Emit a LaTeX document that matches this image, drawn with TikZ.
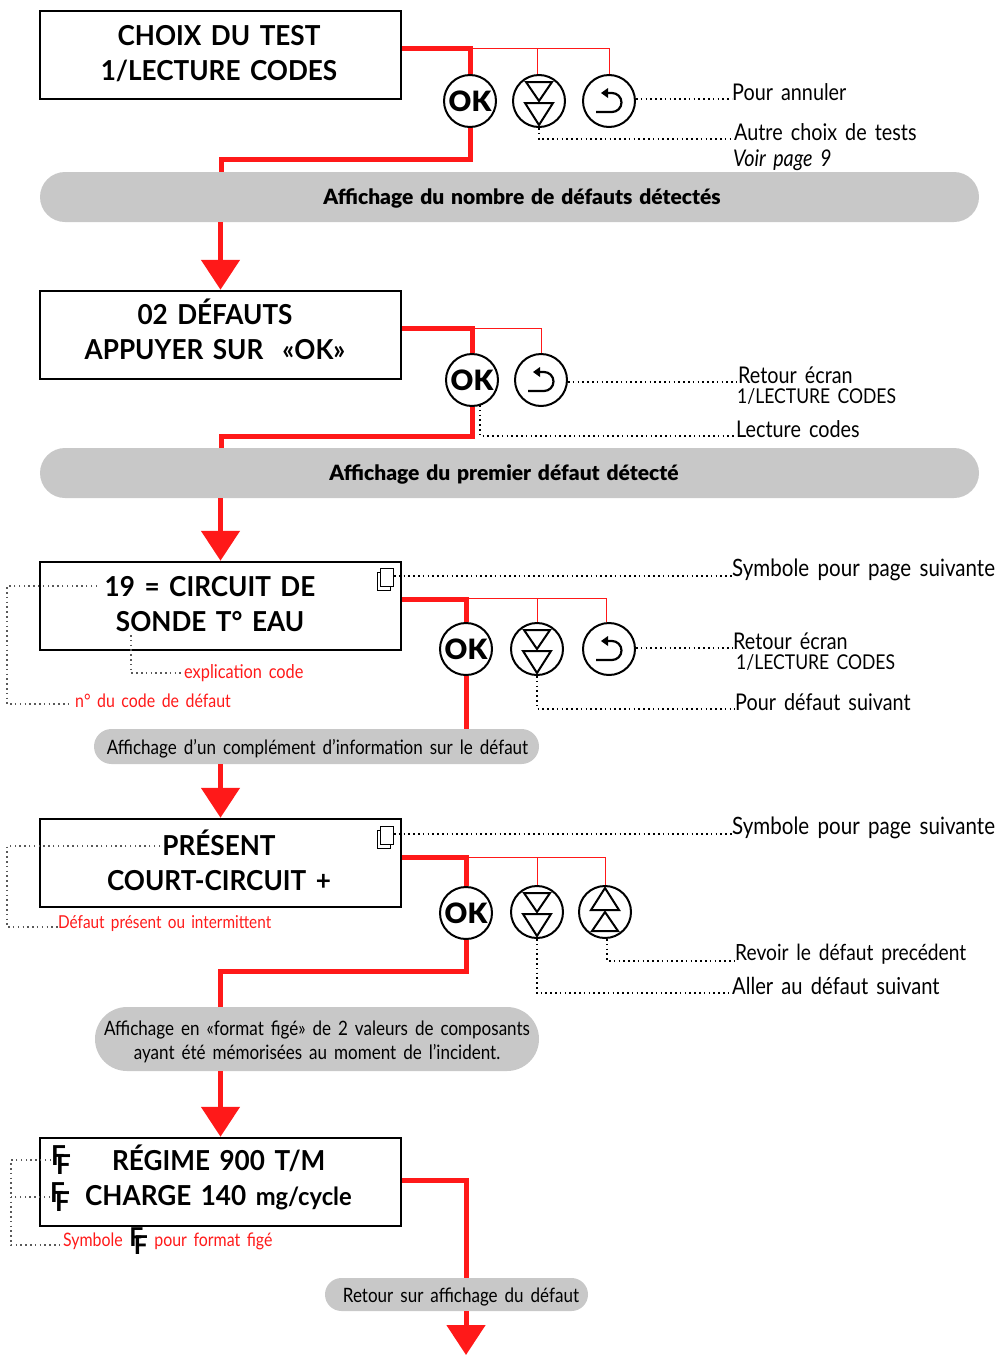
\documentclass[tikz,border=0pt]{standalone}
\usepackage{fontspec}
\setmainfont[WordSpace=1.6,FakeStretch=0.86]{Lato}
\newfontfamily\lcdfont[WordSpace=1.5,FakeStretch=0.95]{Lato Bold}
\newfontfamily\grasfont[WordSpace=1.4]{Lato Black}
\usetikzlibrary{arrows.meta,shapes.misc}
\definecolor{rouge}{RGB}{255,25,25}
\definecolor{gris}{RGB}{200,200,200}
\newcommand{\figeFF}{\mbox{F\kern-0.36em\raisebox{-0.6ex}{F}}}
\tikzset{
    lcd/.style={draw,line width=2.5pt,minimum width=361pt,minimum height=88pt,inner sep=0pt},
    ligne/.style={inner sep=0pt,align=center,font=\lcdfont\fontsize{27.5}{35}\selectfont},
    pilule/.style={rounded rectangle,fill=gris,inner sep=0pt},
    titre/.style={inner sep=0pt,font=\grasfont\fontsize{21}{26}\selectfont},
    soustitre/.style={inner sep=0pt,align=center,font=\fontsize{19.8}{24}\selectfont},
    bouton/.style={circle,draw,fill=white,line width=2pt,minimum size=52pt,inner sep=0pt},
    boutonok/.style={bouton,font=\grasfont\fontsize{28}{30}\selectfont},
    gros/.style={rouge,line width=5pt},
    filet/.style={rouge,line width=1pt},
    fleche/.style={rouge,line width=5pt,-{Triangle[length=30pt,width=38pt]}},
    pointille/.style={line width=1.5pt,dash pattern=on 1.5pt off 3.3pt},
    note/.style={anchor=west,inner sep=0pt,align=left,font=\fontsize{23}{20}\selectfont},
    noterouge/.style={anchor=west,inner sep=0pt,text=rouge,font=\fontsize{18.5}{20}\selectfont},
    bas/.pic={
        \draw[line width=2pt,line join=miter] (-13,-19) -- (13,-19) -- (0,0) -- cycle;
        \draw[line width=2pt,line join=miter] (-14,2) -- (14,2) -- (0,24) -- cycle;
    },
    haut/.pic={
        \draw[line width=2pt,line join=miter] (-13,19) -- (13,19) -- (0,0) -- cycle;
        \draw[line width=2pt,line join=miter] (-14,-2) -- (14,-2) -- (0,-24) -- cycle;
    },
    retour/.pic={
        \draw[line width=2.2pt] (-13,11) -- (3,11) arc[start angle=90,end angle=-90,radius=9.5] -- (-2,-8);
        \fill (-8,-8) -- (-1,-13) -- (-1,-3) -- cycle;
    },
    page/.pic={
        \draw[fill=white,line width=1pt] (-8,-7) rectangle (5,11);
        \draw[fill=white,line width=1pt] (-5,-11) rectangle (8,7);
    }
}
\begin{document}
\begin{tikzpicture}[x=1pt,y=-1pt]
    \useasboundingbox (0,0) rectangle (998,1355);

    \node[lcd] (lcdA) at (220.5,55) {};
    \node[lcd] (lcdB) at (220.5,335) {};
    \node[lcd] (lcdC) at (220.5,606) {};
    \node[lcd] (lcdD) at (220.5,863) {};
    \node[lcd] (lcdE) at (220.5,1182) {};

    \node[ligne] (choix) at (219,53.5) {CHOIX DU TEST\\1/LECTURE CODES};
    \node[ligne] (defauts) at (215,329) {02 DÉFAUTS\\APPUYER SUR \ «OK»};
    \node[ligne] (circuit) at (210,604) {19 = CIRCUIT DE\\SONDE T° EAU};
    \node[ligne] (presentD) at (219,860.5) {PRÉSENT\\COURT-CIRCUIT +};
    \node[ligne,anchor=west] (regime) at (112,1158) {RÉGIME 900 T/M};
    \node[ligne,anchor=west] (charge) at (85,1198) {CHARGE 140 \fontsize{25}{30}\selectfont mg/cycle};
    \node[ligne,anchor=west] (ffA) at (51,1160) {\figeFF};
    \node[ligne,anchor=west] (ffB) at (50,1197) {\figeFF};

    \node[pilule,minimum width=939pt,minimum height=50pt] (pilA) at (509.5,197) {};
    \node[pilule,minimum width=939pt,minimum height=50pt] (pilB) at (509.5,473) {};
    \node[pilule,minimum width=445pt,minimum height=35pt] (pilC) at (316.5,746.5) {};
    \node[pilule,minimum width=444pt,minimum height=64pt] (pilD) at (317,1039) {};
    \node[pilule,minimum width=263pt,minimum height=33pt] (pilE) at (456.5,1294.5) {};

    \node[titre] (nombre) at (522,198) {Affichage du nombre de défauts détectés};
    \node[titre] (premier) at (504,474) {Affichage du premier défaut détecté};
    \node[soustitre] (complement) at (317.5,749) {Affichage d’un complément d’information sur le défaut};
    \node[soustitre] (fige) at (317,1042) {Affichage en «format figé» de 2 valeurs de composants\\ayant été mémorisées au moment de l’incident.};
    \node[soustitre] (retourE) at (461,1297) {Retour sur affichage du défaut};

    \node[boutonok] (okA) at (470,101) {OK};
    \node[bouton] (basA) at (539,101) {};
    \node[bouton] (retA) at (609,101) {};
    \node[boutonok] (okB) at (472,380) {OK};
    \node[bouton] (retB) at (541,380) {};
    \node[boutonok] (okC) at (466,649) {OK};
    \node[bouton] (basC) at (537,649) {};
    \node[bouton] (retC) at (609,649) {};
    \node[boutonok] (okD) at (466,913) {OK};
    \node[bouton] (basD) at (537,912) {};
    \node[bouton] (hautD) at (605,912) {};

    \pic at (basA) {bas};
    \pic at (retA) {retour};
    \pic at (retB) {retour};
    \pic at (basC) {bas};
    \pic at (retC) {retour};
    \pic at (basD) {bas};
    \pic at (hautD) {haut};
    \pic at (385,579) {page};
    \pic at (385,837) {page};

    \node[note] (annuler) at (732,92) {Pour annuler};
    \node[note] (autre) at (734,132) {Autre choix de tests};
    \node[note,font=\itshape\fontsize{23}{24}\selectfont] (voir) at (733,160) {Voir page 9};
    \node[note] (retourB) at (737,386) {\hspace*{1pt}Retour écran\\{\fontsize{20.4}{20}\selectfont 1/LECTURE CODES}};
    \node[note] (lecture) at (736,429) {Lecture codes};
    \node[note,font=\fontsize{23.9}{20}\selectfont] (symboleC) at (732,570) {Symbole pour page suivante};
    \node[note] (retourC) at (733,652) {Retour écran\\\hspace*{3pt}{\fontsize{20.4}{20}\selectfont 1/LECTURE CODES}};
    \node[note] (suivantC) at (735,702) {Pour défaut suivant};
    \node[note,font=\fontsize{23.9}{20}\selectfont] (symboleD) at (732,828) {Symbole pour page suivante};
    \node[note,font=\fontsize{22.3}{20}\selectfont] (revoir) at (735,954) {Revoir le défaut precédent};
    \node[note,font=\fontsize{23.4}{20}\selectfont] (aller) at (732,986) {Aller au défaut suivant};

    \node[noterouge,font=\fontsize{19}{20}\selectfont] (explication) at (184,673) {explication code};
    \node[noterouge] (numero) at (75,701) {n° du code de défaut};
    \node[noterouge,font=\fontsize{17.8}{20}\selectfont] (presentR) at (58,923.5) {Défaut présent ou intermittent};
    \node[noterouge] (symboleE) at (63,1241) {Symbole {\lcdfont\color{black}\fontsize{26}{26}\selectfont\figeFF} pour format figé};

    \coordinate (nappeA) at (470,48);
    \coordinate (nappeB) at (472,328);
    \coordinate (nappeC) at (467,598);
    \coordinate (nappeD) at (468,857);
    \coordinate (coudeA) at (221,159);
    \coordinate (coudeB) at (221,436);
    \coordinate (coudeD) at (220,971);
    \coordinate (pageC) at (394,576);
    \coordinate (pageD) at (394,834);
    \coordinate (codeC) at (97,586);
    \coordinate (sondeC) at (131,635);
    \coordinate (presentG) at (160,846);
    \coordinate (lectureB) at (480,405);

    \draw[gros] ([yshift=7pt]lcdA.east) -| (okA.north);
    \draw[gros] (okA.south) |- (coudeA) -- (coudeA |- pilA.north);
    \draw[filet] (okA |- nappeA) -| (retA.north);
    \draw[filet] ([xshift=-2pt]basA.north) -- ([xshift=-2pt]basA.north |- nappeA);
    \draw[fleche] (pilA.south -| lcdB.north) -- (lcdB.north);

    \draw[gros] ([yshift=7pt]lcdB.east) -| (okB.north);
    \draw[gros] (okB.south) |- (coudeB) -- (coudeB |- pilB.north);
    \draw[filet] (okB |- nappeB) -| (retB.north);
    \draw[fleche] (pilB.south -| lcdC.north) -- (lcdC.north);

    \draw[gros] ([yshift=7pt]lcdC.east) -| (okC.north);
    \draw[gros] (okC.south) -- (okC |- pilC.north);
    \draw[filet] (okC |- nappeC) -| ([xshift=-3pt]retC.north);
    \draw[filet] (basC.north) -- (basC |- nappeC);
    \draw[fleche] (pilC.south -| lcdD.north) -- (lcdD.north);

    \draw[gros] ([yshift=6pt]lcdD.east) -| (okD.north);
    \draw[gros] (okD.south) |- (coudeD) -- (coudeD |- pilD.north);
    \draw[filet] (okD |- nappeD) -| (hautD.north);
    \draw[filet] (basD.north) -- (basD |- nappeD);
    \draw[fleche] (pilD.south -| lcdE.north) -- (lcdE.north);

    \draw[gros] ([yshift=2pt]lcdE.east) -| (pilE.north -| okC);
    \draw[fleche] (pilE.south -| okC) -- (okC |- 0,1355);

    \draw[pointille] ([yshift=2pt]retA.east) -- ([yshift=2pt]retA.east -| annuler.west);
    \draw[pointille] (basA.south) |- ([yshift=-7pt]autre.west);
    \draw[pointille] ([yshift=-2pt]retB.east) -- ([yshift=-2pt]retB.east -| retourB.west);
    \draw[pointille] (lectureB) |- ([yshift=-7pt]lecture.west);
    \draw[pointille] (pageC) -- (pageC -| symboleC.west);
    \draw[pointille] ([yshift=1pt]retC.east) -- ([yshift=1pt]retC.east -| retourC.west);
    \draw[pointille] (basC.south) |- ([yshift=-7pt]suivantC.west);
    \draw[pointille] (pageD) -- (pageD -| symboleD.west);
    \draw[pointille] ([xshift=2pt]hautD.south) |- ([yshift=-7pt]revoir.west);
    \draw[pointille] (basD.south) |- ([yshift=-7pt]aller.west);

    \draw[pointille,gray!70!black] (codeC) -| (7,704) -- (68,704);
    \draw[pointille,gray!70!black] (sondeC) |- (explication.west);
    \draw[pointille,gray!70!black] (presentG) -| (7,927) -- (presentR.west |- 0,927);
    \draw[pointille,gray!70!black] (ffA.west) -| (11,1245) -- (symboleE.west |- 0,1245);
    \draw[pointille,gray!70!black] (ffB.west) -- (11,1197);
\end{tikzpicture}
\end{document}
